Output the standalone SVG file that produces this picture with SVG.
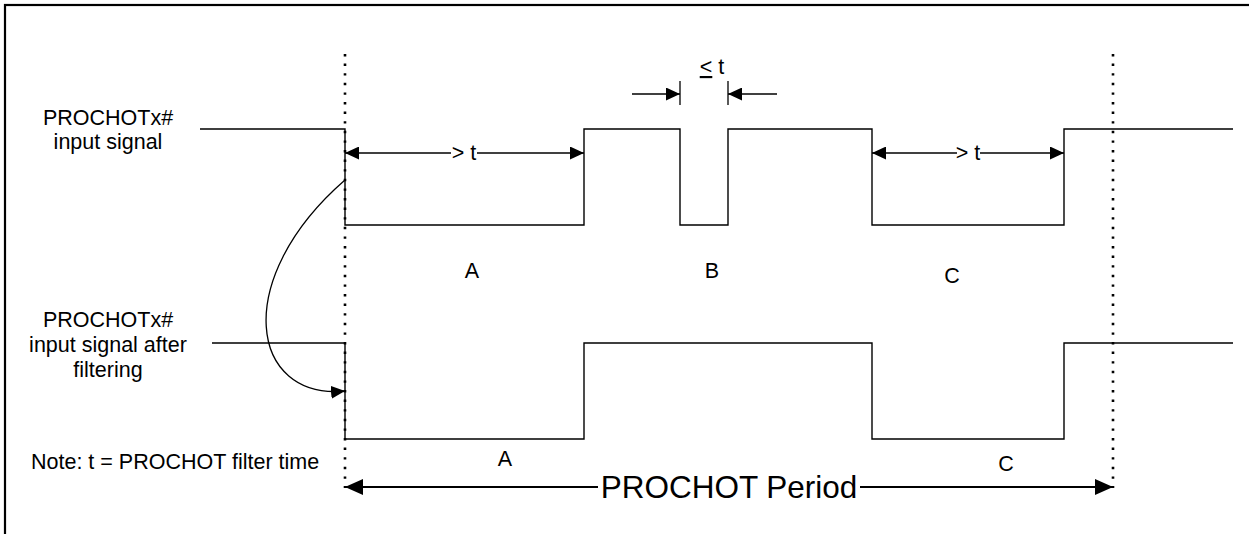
<svg xmlns="http://www.w3.org/2000/svg" width="1249" height="534" viewBox="0 0 1249 534">
  <style>
    .t { font-family: "Liberation Sans", Arial, sans-serif; font-size: 21.5px; fill: #000; }
    .big { font-family: "Liberation Sans", Arial, sans-serif; font-size: 31.5px; fill: #000; }
    .sig { fill: none; stroke: #000; stroke-width: 1.4; }
    .dim { fill: none; stroke: #000; stroke-width: 1.3; }
    .dot { fill: none; stroke: #000; stroke-width: 2.6; stroke-dasharray: 2.4 7.2; }
  </style>
  <defs>
    <marker id="ah" markerUnits="userSpaceOnUse" markerWidth="14" markerHeight="13" refX="14" refY="6.5" orient="auto-start-reverse">
      <path d="M0,0 L14,6.5 L0,13 z" fill="#000"/>
    </marker>
    <marker id="ahBig" markerUnits="userSpaceOnUse" markerWidth="18" markerHeight="16" refX="18" refY="8" orient="auto-start-reverse">
      <path d="M0,0 L18,8 L0,16 z" fill="#000"/>
    </marker>
  </defs>
  <rect x="0" y="0" width="1249" height="534" fill="#fff"/>
  <rect id="frame" x="5" y="5" width="1270" height="560" fill="none" stroke="#000" stroke-width="2.2"/>

  <g id="labels">
    <text class="t" x="108" y="125" text-anchor="middle">PROCHOTx#</text>
    <text class="t" x="108" y="149" text-anchor="middle">input signal</text>
    <text class="t" x="108" y="327" text-anchor="middle">PROCHOTx#</text>
    <text class="t" x="108" y="352" text-anchor="middle">input signal after</text>
    <text class="t" x="108" y="377" text-anchor="middle">filtering</text>
    <text class="t" x="31" y="469">Note: t = PROCHOT filter time</text>
  </g>

  <g id="guides">
    <line class="dot" x1="345" y1="54" x2="345" y2="488"/>
    <line class="dot" x1="1113" y1="54" x2="1113" y2="488"/>
  </g>

  <g id="signal-input">
    <polyline class="sig" points="200,129 345,129 345,225 584,225 584,129 680,129 680,225 728,225 728,129 872,129 872,225 1064,225 1064,129 1233,129"/>
  </g>

  <g id="signal-filtered">
    <polyline class="sig" points="212,343 345,343 345,439 584,439 584,343 872,343 872,439 1064,439 1064,343 1233,343"/>
  </g>

  <g id="regions">
    <text class="t" x="472" y="278" text-anchor="middle">A</text>
    <text class="t" x="712" y="278" text-anchor="middle">B</text>
    <text class="t" x="952" y="283" text-anchor="middle">C</text>
    <text class="t" x="505" y="466" text-anchor="middle">A</text>
    <text class="t" x="1006" y="471" text-anchor="middle">C</text>
  </g>

  <g id="connectors">
    <!-- > t at A -->
    <line class="dim" x1="451" y1="153" x2="345" y2="153" marker-end="url(#ah)"/>
    <line class="dim" x1="477" y1="153" x2="584" y2="153" marker-end="url(#ah)"/>
    <text class="t" x="464" y="160" text-anchor="middle">&gt; t</text>
    <!-- > t at C -->
    <line class="dim" x1="957" y1="153" x2="872" y2="153" marker-end="url(#ah)"/>
    <line class="dim" x1="980" y1="153" x2="1064" y2="153" marker-end="url(#ah)"/>
    <text class="t" x="968" y="160" text-anchor="middle">&gt; t</text>
    <!-- <= t at B -->
    <line class="dim" x1="632" y1="94" x2="680" y2="94" marker-end="url(#ah)"/>
    <line class="dim" x1="777" y1="94" x2="728" y2="94" marker-end="url(#ah)"/>
    <line class="dim" x1="680" y1="81" x2="680" y2="105"/>
    <line class="dim" x1="728" y1="81" x2="728" y2="105"/>
    <text class="t" x="712" y="74" text-anchor="middle"><tspan text-decoration="underline">&lt;</tspan> t</text>
    <!-- curved filter arrow -->
    <path class="dim" d="M345,180 C230,280 250,400 345,391" marker-end="url(#ah)"/>
    <!-- PROCHOT Period -->
    <line x1="598" y1="487" x2="345" y2="487" stroke="#000" stroke-width="2.2" marker-end="url(#ahBig)"/>
    <line x1="860" y1="487" x2="1113" y2="487" stroke="#000" stroke-width="2.2" marker-end="url(#ahBig)"/>
    <text class="big" x="729" y="498" text-anchor="middle">PROCHOT Period</text>
  </g>
</svg>
